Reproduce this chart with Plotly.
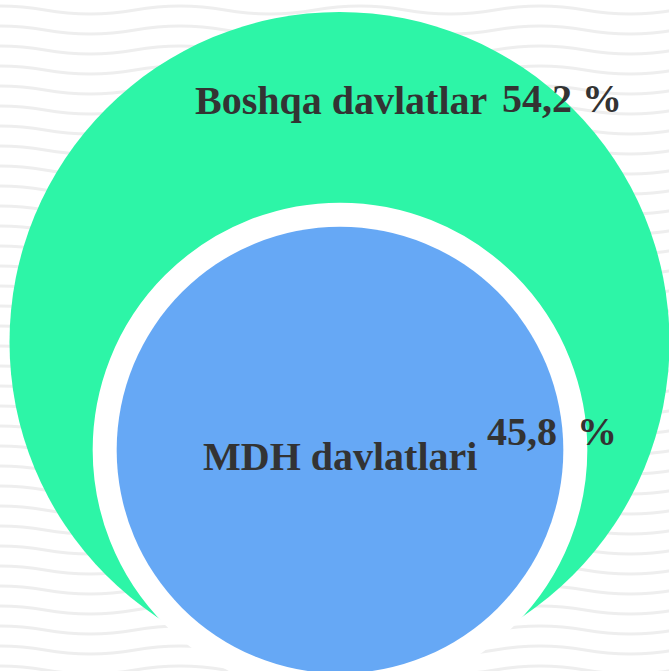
import base64
import plotly.graph_objects as go

# ---- data ----
categories = ["Boshqa davlatlar", "MDH davlatlari"]
shares = [54.2, 45.8]
total = sum(shares)

def fmt(v):
    return f"{v:.1f}".replace(".", ",")

# ---- style / layout constants ----
W, H = 669, 671
GREEN = "#2DF5A7"
BLUE = "#66A8F5"
TEXT = "#333333"
FONT = "Liberation Serif"
outer_center = (339.5, 342)
inner_center = (340, 450)
OUTER_R = 330.0
sizeref = total / (2 * OUTER_R ** 2)

# decorative faint wavy background (pure decoration, not data)
wave_svg = (
    f'<svg xmlns="http://www.w3.org/2000/svg" width="{W}" height="{H}">'
    '<defs><pattern id="p" width="180" height="20" patternUnits="userSpaceOnUse">'
    '<path d="M-45,10 Q0,2 45,10 T135,10 T225,10" fill="none" stroke="#eeeeee" stroke-width="3"/>'
    '</pattern></defs>'
    f'<rect width="{W}" height="{H}" fill="url(#p)"/></svg>'
)
wave_uri = "data:image/svg+xml;base64," + base64.b64encode(wave_svg.encode()).decode()

fig = go.Figure()

fig.add_trace(go.Scatter(
    x=[outer_center[0]], y=[outer_center[1]], mode="markers",
    marker=dict(size=[total], sizemode="area", sizeref=sizeref, opacity=1,
                color=GREEN, line=dict(width=0)),
    hoverinfo="skip", showlegend=False))

fig.add_trace(go.Scatter(
    x=[inner_center[0]], y=[inner_center[1]], mode="markers",
    marker=dict(size=[shares[1]], sizemode="area", sizeref=sizeref, opacity=1,
                color="white", line=dict(width=48, color="white")),
    hoverinfo="skip", showlegend=False))

fig.add_trace(go.Scatter(
    x=[inner_center[0]], y=[inner_center[1]], mode="markers",
    marker=dict(size=[shares[1]], sizemode="area", sizeref=sizeref, opacity=1,
                color=BLUE, line=dict(width=0)),
    hoverinfo="skip", showlegend=False))

font = dict(family=FONT, size=40, color=TEXT, weight="bold")
label_pos = [(193, 100), (201, 456)]
value_pos = [(500, 98), (485, 431)]
value_text = [fmt(shares[0]) + " %", fmt(shares[1]) + "\u00a0\u00a0%"]

for i, cat in enumerate(categories):
    fig.add_annotation(x=label_pos[i][0], y=label_pos[i][1], text=cat,
                       xanchor="left", yanchor="middle", showarrow=False, font=font)
    fig.add_annotation(x=value_pos[i][0], y=value_pos[i][1], text=value_text[i],
                       xanchor="left", yanchor="middle", showarrow=False, font=font)

fig.add_layout_image(source=wave_uri, xref="paper", yref="paper", x=0, y=1,
                     sizex=1, sizey=1, xanchor="left", yanchor="top",
                     sizing="stretch", layer="below")

fig.update_layout(
    width=W, height=H,
    margin=dict(l=0, r=0, t=0, b=0),
    paper_bgcolor="rgba(0,0,0,0)", plot_bgcolor="rgba(0,0,0,0)",
    xaxis=dict(range=[0, W], visible=False, fixedrange=True),
    yaxis=dict(range=[H, 0], visible=False, fixedrange=True),
    showlegend=False,
)

fig.write_html("out.html", config={"displayModeBar": False},
               post_script="document.body.style.margin='0';document.body.style.overflow='hidden';document.body.style.background='white';")
